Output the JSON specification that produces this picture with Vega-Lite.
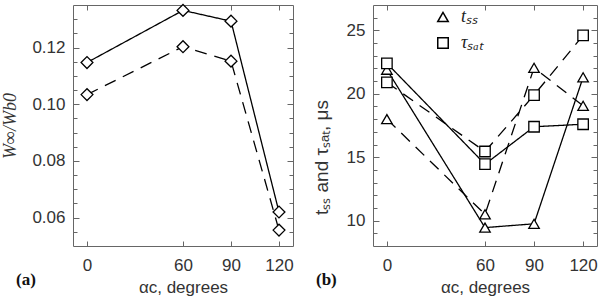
{
  "$schema": "https://vega.github.io/schema/vega-lite/v6.json",
  "autosize": {"type": "none"},
  "padding": {"left": 73, "top": 5, "right": 527, "bottom": 291},
  "background": "white",
  "config": {
    "view": {"stroke": null},
    "axis": {
      "grid": false,
      "labelFont": "Liberation Sans",
      "labelFontSize": 17,
      "labelColor": "#333",
      "titleFont": "Liberation Sans",
      "titleFontSize": 17,
      "titleFontWeight": "normal",
      "titleColor": "#333",
      "domainColor": "#666",
      "tickColor": "#666",
      "domainWidth": 1,
      "tickWidth": 1
    },
    "legend": {
      "labelFont": "Liberation Serif",
      "labelFontSize": 18,
      "labelFontStyle": "italic",
      "labelColor": "#222"
    }
  },
  "datasets": {
    "pa": [
      {"a": 0, "w": 0.1147, "ls": "solid"},
      {"a": 60, "w": 0.1331, "ls": "solid"},
      {"a": 90, "w": 0.1293, "ls": "solid"},
      {"a": 120, "w": 0.0620, "ls": "solid"},
      {"a": 0, "w": 0.1034, "ls": "dashed"},
      {"a": 60, "w": 0.1203, "ls": "dashed"},
      {"a": 90, "w": 0.1152, "ls": "dashed"},
      {"a": 120, "w": 0.0556, "ls": "dashed"}
    ],
    "pb": [
      {"a": 0, "v": 21.9, "q": "t", "ls": "solid"},
      {"a": 60, "v": 9.45, "q": "t", "ls": "solid"},
      {"a": 90, "v": 9.75, "q": "t", "ls": "solid"},
      {"a": 120, "v": 21.3, "q": "t", "ls": "solid"},
      {"a": 0, "v": 18.0, "q": "t", "ls": "dashed"},
      {"a": 60, "v": 10.5, "q": "t", "ls": "dashed"},
      {"a": 90, "v": 22.05, "q": "t", "ls": "dashed"},
      {"a": 120, "v": 19.05, "q": "t", "ls": "dashed"},
      {"a": 0, "v": 22.4, "q": "tau", "ls": "solid"},
      {"a": 60, "v": 14.45, "q": "tau", "ls": "solid"},
      {"a": 90, "v": 17.4, "q": "tau", "ls": "solid"},
      {"a": 120, "v": 17.6, "q": "tau", "ls": "solid"},
      {"a": 0, "v": 20.9, "q": "tau", "ls": "dashed"},
      {"a": 60, "v": 15.45, "q": "tau", "ls": "dashed"},
      {"a": 90, "v": 19.9, "q": "tau", "ls": "dashed"},
      {"a": 120, "v": 24.6, "q": "tau", "ls": "dashed"}
    ]
  },
  "bounds": "flush",
  "spacing": 80,
  "resolve": {"legend": {"shape": "independent"}},
  "hconcat": [
    {
      "width": 220,
      "height": 241,
      "data": {"name": "pa"},
      "title": {"text": "(a)", "orient": "bottom", "anchor": "start", "frame": "group", "font": "Liberation Serif", "fontSize": 17, "fontWeight": "bold", "color": "#111", "dx": -57, "dy": -23, "offset": 0},
      "resolve": {"axis": {"x": "independent", "y": "independent"}},
      "layer": [
        {
          "mark": {"type": "line", "color": "black", "strokeWidth": 1.3},
          "encoding": {
            "x": {"field": "a", "type": "quantitative", "scale": {"domain": [-8.75, 128.75], "nice": false, "zero": false},
              "axis": {"orient": "bottom", "values": [0, 60, 90, 120], "tickSize": -5, "labelPadding": 16, "title": "αc, degrees", "minExtent": 33, "maxExtent": 33, "titlePadding": 0}},
            "y": {"field": "w", "type": "quantitative", "scale": {"domain": [0.05, 0.135], "nice": false, "zero": false},
              "axis": {"orient": "left", "values": [0.06, 0.08, 0.10, 0.12], "format": ".2f", "tickSize": -6, "labelPadding": 14, "title": "W∞/Wb0", "titleFont": "Liberation Serif", "titleFontStyle": "italic", "titleFontSize": 18, "minExtent": 44, "maxExtent": 44, "titlePadding": 10}},
            "strokeDash": {"field": "ls", "type": "nominal", "scale": {"domain": ["solid", "dashed"], "range": [[1, 0], [12, 8]]}, "legend": null}
          }
        },
        {
          "mark": {"type": "point", "shape": "diamond", "filled": true, "fill": "white", "stroke": "black", "strokeWidth": 1.3, "size": 140, "opacity": 1},
          "encoding": {
            "x": {"field": "a", "type": "quantitative", "scale": {"domain": [-8.75, 128.75], "nice": false, "zero": false},
              "axis": {"orient": "top", "values": [0, 60, 90, 120], "tickSize": -5, "labels": false, "title": null}},
            "y": {"field": "w", "type": "quantitative", "scale": {"domain": [0.05, 0.135], "nice": false, "zero": false},
              "axis": {"orient": "right", "values": [0.06, 0.08, 0.10, 0.12], "tickSize": -6, "labels": false, "title": null}}
          }
        },
        {
          "mark": {"type": "point", "opacity": 0},
          "encoding": {
            "x": {"field": "a", "type": "quantitative", "axis": null},
            "y": {"field": "w", "type": "quantitative",
              "axis": {"orient": "left", "values": [0.055, 0.065, 0.07, 0.075, 0.085, 0.09, 0.095, 0.105, 0.11, 0.115, 0.125, 0.13], "tickSize": -4, "labels": false, "domain": false, "title": null}}
          }
        },
        {
          "mark": {"type": "point", "opacity": 0},
          "encoding": {
            "x": {"field": "a", "type": "quantitative", "axis": null},
            "y": {"field": "w", "type": "quantitative",
              "axis": {"orient": "right", "values": [0.055, 0.065, 0.07, 0.075, 0.085, 0.09, 0.095, 0.105, 0.11, 0.115, 0.125, 0.13], "tickSize": -4, "labels": false, "domain": false, "title": null}}
          }
        }
      ]
    },
    {
      "width": 224,
      "height": 241,
      "data": {"name": "pb"},
      "title": {"text": "(b)", "orient": "bottom", "anchor": "start", "frame": "group", "font": "Liberation Serif", "fontSize": 17, "fontWeight": "bold", "color": "#111", "dx": -57, "dy": -23, "offset": 0},
      "resolve": {"axis": {"x": "independent", "y": "independent"}},
      "layer": [
        {
          "mark": {"type": "line", "color": "black", "strokeWidth": 1.3},
          "encoding": {
            "x": {"field": "a", "type": "quantitative", "scale": {"domain": [-8.5, 128.5], "nice": false, "zero": false},
              "axis": {"orient": "bottom", "values": [0, 60, 90, 120], "tickSize": -5, "labelPadding": 16, "title": "αc, degrees", "minExtent": 33, "maxExtent": 33, "titlePadding": 0}},
            "y": {"field": "v", "type": "quantitative", "scale": {"domain": [8, 27], "nice": false, "zero": false},
              "axis": {"orient": "left", "values": [10, 15, 20, 25], "tickSize": -6, "labelPadding": 14, "title": "tₛₛ  and  τₛₐₜ,  μs", "titleFontSize": 19, "titleY": 152, "minExtent": 32, "maxExtent": 32, "titlePadding": 10}},
            "detail": {"field": "q", "type": "nominal"},
            "strokeDash": {"field": "ls", "type": "nominal", "scale": {"domain": ["solid", "dashed"], "range": [[1, 0], [12, 8]]}, "legend": null}
          }
        },
        {
          "mark": {"type": "point", "filled": true, "fill": "white", "stroke": "black", "strokeWidth": 1.3, "size": 110, "opacity": 1},
          "encoding": {
            "x": {"field": "a", "type": "quantitative", "scale": {"domain": [-8.5, 128.5], "nice": false, "zero": false},
              "axis": {"orient": "top", "values": [0, 60, 90, 120], "tickSize": -5, "labels": false, "title": null}},
            "y": {"field": "v", "type": "quantitative", "scale": {"domain": [8, 27], "nice": false, "zero": false},
              "axis": {"orient": "right", "values": [10, 15, 20, 25], "tickSize": -6, "labels": false, "title": null}},
            "shape": {"field": "q", "type": "nominal", "scale": {"domain": ["t", "tau"], "range": ["triangle-up", "square"]},
              "legend": {"orient": "none", "legendX": 61, "legendY": 3, "title": null, "padding": 0, "rowPadding": 8, "labelOffset": 9, "symbolSize": 110, "labelExpr": "datum.value == 't' ? 'tₛₛ' : 'τₛₐₜ'",
                "encode": {"symbols": {"update": {"stroke": {"value": "#777"}, "fill": {"value": "white"}, "strokeWidth": {"value": 1.3}, "opacity": {"value": 1}}}}}}
          }
        },
        {
          "mark": {"type": "point", "opacity": 0},
          "encoding": {
            "x": {"field": "a", "type": "quantitative", "axis": null},
            "y": {"field": "v", "type": "quantitative",
              "axis": {"orient": "left", "values": [9, 11, 12, 13, 14, 16, 17, 18, 19, 21, 22, 23, 24, 26], "tickSize": -4, "labels": false, "domain": false, "title": null}}
          }
        },
        {
          "mark": {"type": "point", "opacity": 0},
          "encoding": {
            "x": {"field": "a", "type": "quantitative", "axis": null},
            "y": {"field": "v", "type": "quantitative",
              "axis": {"orient": "right", "values": [9, 11, 12, 13, 14, 16, 17, 18, 19, 21, 22, 23, 24, 26], "tickSize": -4, "labels": false, "domain": false, "title": null}}
          }
        }
      ]
    }
  ]
}
